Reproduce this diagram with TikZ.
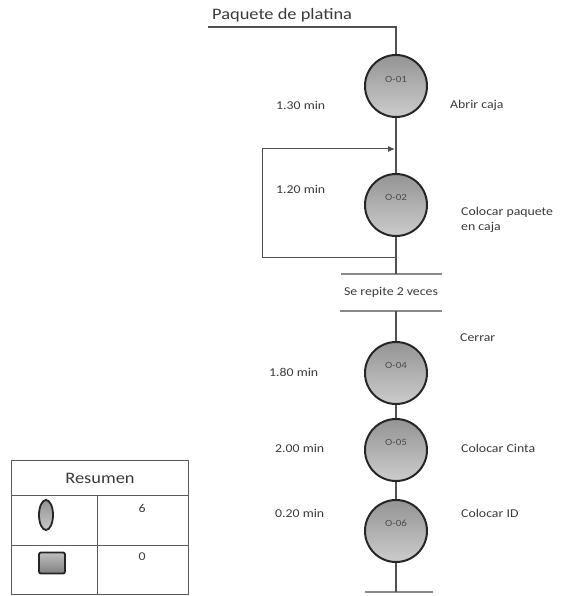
\documentclass[tikz,border=0pt]{standalone}
\usepackage{fontspec}
\setmainfont{Carlito}[FakeStretch=1.15]
\usetikzlibrary{arrows.meta,calc,shapes.geometric}
\definecolor{txt}{HTML}{3A3A3A}
\definecolor{ln}{HTML}{505050}
\definecolor{bar}{HTML}{8A8A8A}
\tikzset{
  op/.style={circle, minimum size=62pt, inner sep=0pt, draw=black!85, line width=2pt,
     top color=black!42, bottom color=black!20},
  optext/.style={font=\fontsize{9.5}{11}\selectfont, text=black!70},
  lbl/.style={font=\fontsize{12}{14}\selectfont, text=txt, anchor=west, inner sep=0pt},
  flow/.style={draw=ln, line width=1.1pt},
  barline/.style={draw=bar, line width=1.6pt},
  tab/.style={draw=black!65, line width=0.9pt}
}
\begin{document}
\begin{tikzpicture}[x=1pt,y=-1pt]
\useasboundingbox (0,0) rectangle (561,596);
% title
\node[lbl, font=\fontsize{16}{18}\selectfont, anchor=base west] (title) at (212,20) {Paquete de platina};
\coordinate (start) at (208,27);
% operations
\node[op] (c1) at (396,86) {};
\node[optext, yshift=7pt] (t1) at (c1.center) {O-01};
\node[op] (c2) at (396,205) {};
\node[optext, yshift=8pt] (t2) at (c2.center) {O-02};
\node[op] (c4) at (396,373) {};
\node[optext, yshift=8pt] (t4) at (c4.center) {O-04};
\node[op] (c5) at (396,450) {};
\node[optext, yshift=8pt] (t5) at (c5.center) {O-05};
\node[op] (c6) at (396,531) {};
\node[optext, yshift=8pt] (t6) at (c6.center) {O-06};
% bars
\coordinate (b1l) at (341,274); \coordinate (b1r) at (442,274);
\coordinate (b2l) at (340,311); \coordinate (b2r) at (442,311);
\coordinate (b3l) at (365,592); \coordinate (b3r) at (433,592);
\draw[barline] (b1l) -- (b1r);
\draw[barline] (b2l) -- (b2r);
\draw[barline] (b3l) -- (b3r);
\node[lbl, anchor=center] (rep) at (391,292) {Se repite 2 veces};
% main flow
\draw[flow] (start) -| (c1.north);
\draw[flow] (c1.south) -- (c2.north);
\draw[flow] (c2.south) -- (c2.south |- b1l);
\draw[flow] (c4.north |- b2l) -- (c4.north);
\draw[flow] (c4.south) -- (c5.north);
\draw[flow] (c5.south) -- (c6.north);
\draw[flow] (c6.south) -- (c6.south |- b3l);
% loop
\coordinate (lpb) at (396,257);
\coordinate (lpt) at (396,149);
\draw[flow, -{Latex[length=7pt,width=6pt]}, shorten >=1pt, line width=1pt]
  (lpb) -- (262,257) -- (262,149) -- (lpt);
% labels
\node[lbl] (m1) at (276,105) {1.30 min};
\node[lbl] (d1) at (450,105) {Abrir caja};
\node[lbl] (m2) at (276,189) {1.20 min};
\node[lbl, align=left] (d2) at (461,220) {Colocar paquete\\[1pt]en caja};
\node[lbl] (d4) at (460,338) {Cerrar};
\node[lbl] (m4) at (269,372) {1.80 min};
\node[lbl] (m5) at (275,448) {2.00 min};
\node[lbl] (d5) at (461,448) {Colocar Cinta};
\node[lbl] (m6) at (275,513) {0.20 min};
\node[lbl] (d6) at (461,513) {Colocar ID};
% summary table
\draw[tab] (11,460) rectangle (188,594);
\draw[tab] (11,495) -- (188,495);
\draw[tab] (11,545) -- (188,545);
\draw[tab] (97,495) -- (97,594);
\node[lbl, anchor=center, font=\fontsize{16}{18}\selectfont] (res) at (100,478) {Resumen};
\node[ellipse, minimum width=14pt, minimum height=30pt, inner sep=0pt, draw=black!85, line width=1.8pt,
  top color=black!42, bottom color=black!22] (e1) at (46,515) {};
\node[rectangle, rounded corners=2pt, minimum width=26pt, minimum height=21pt, inner sep=0pt, draw=black!85, line width=1.8pt,
  top color=black!25, bottom color=black!50] (r1) at (52,563) {};
\node[lbl, anchor=center] (n6) at (142,508) {6};
\node[lbl, anchor=center] (n0) at (142,557) {0};
\end{tikzpicture}
\end{document}
